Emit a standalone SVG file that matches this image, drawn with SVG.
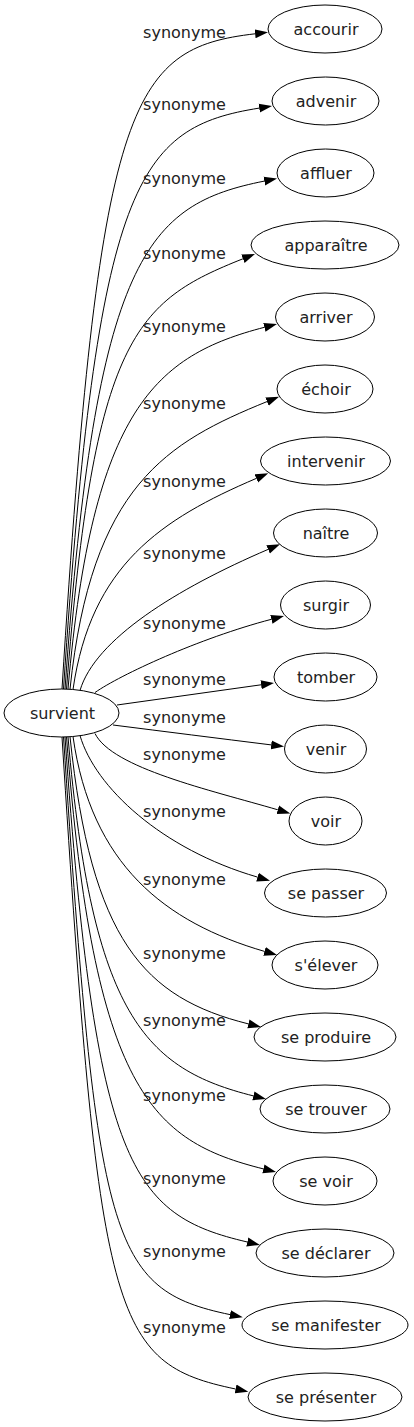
<svg xmlns="http://www.w3.org/2000/svg" width="414" height="1427" viewBox="0 0 414 1427">
<style>
text{font-family:"DejaVu Sans","Verdana",sans-serif;font-size:16px;fill:#222;text-anchor:middle}
ellipse{fill:#fff;stroke:#000;stroke-width:1}
#edges path{fill:none;stroke:#000;stroke-width:1;marker-end:url(#ah)}
</style>
<defs>
<marker id="ah" markerUnits="userSpaceOnUse" viewBox="0 0 13 10" markerWidth="13" markerHeight="10" refX="0" refY="5" orient="auto">
<path d="M0,0.5 L13,5 L0,9.5 z" fill="#000"/>
</marker>
</defs>
<rect width="414" height="1427" fill="#fff"/>
<g id="edges">
<path d="M62,689 C99,100.8 128.9,48.3 255.1,33.8"/>
<path d="M63.5,689 C97.3,178.5 137.7,127.6 259.2,108.1"/>
<path d="M65,689 C95.7,254.7 147.3,204.5 264.3,181.1"/>
<path d="M66.5,689 C93.9,335.9 135.9,301.4 242.9,258.8"/>
<path d="M68,689 C92.5,407.4 156.4,355.4 264.4,327.3"/>
<path d="M70,689.2 C91.3,485 167.3,442.2 267,401.6"/>
<path d="M73,689.5 C91,565.2 160.9,519.2 256.3,478.4"/>
<path d="M80,690.5 C95,639.4 176.2,588.8 268.1,549.4"/>
<path d="M95,692.5 C120,675 198.8,638.3 271.4,619.3"/>
<path d="M117,705 C165,698.3 213,691.5 261.1,684.8"/>
<path d="M113,725 C165,731.6 218,738.3 271.2,744.9"/>
<path d="M95,733.5 C112,768 210,790 277.8,809.8"/>
<path d="M80,735.5 C95,787.1 161.5,849.2 257.5,877.1"/>
<path d="M73,736.5 C91.2,864.7 164.8,922.3 264.5,951.4"/>
<path d="M70,736.8 C91.3,940.5 143.9,997.8 248.4,1023.9"/>
<path d="M68,737 C92.3,1015.7 145.3,1068.9 253.4,1095.9"/>
<path d="M66.5,737 C94,1091.9 151.6,1140.9 263.4,1168.9"/>
<path d="M65,737 C95.6,1168.3 131.3,1214.9 247.3,1242"/>
<path d="M63.5,737 C97.2,1244.1 109.7,1289.5 230,1314.6"/>
<path d="M62,737 C99,1322 111.3,1363.1 235.6,1389"/>
</g>
<g id="edge-labels">
<text x="184.5" y="37.7">synonyme</text>
<text x="184.5" y="110.4">synonyme</text>
<text x="184.5" y="183.7">synonyme</text>
<text x="184.5" y="258.7">synonyme</text>
<text x="184.5" y="332">synonyme</text>
<text x="184.5" y="408.7">synonyme</text>
<text x="184.5" y="487">synonyme</text>
<text x="184.5" y="559.4">synonyme</text>
<text x="184.5" y="628.7">synonyme</text>
<text x="184.5" y="685.4">synonyme</text>
<text x="184.5" y="723.2">synonyme</text>
<text x="184.5" y="760.4">synonyme</text>
<text x="184.5" y="817">synonyme</text>
<text x="184.5" y="885.4">synonyme</text>
<text x="184.5" y="959">synonyme</text>
<text x="184.5" y="1026">synonyme</text>
<text x="184.5" y="1101">synonyme</text>
<text x="184.5" y="1184">synonyme</text>
<text x="184.5" y="1257">synonyme</text>
<text x="184.5" y="1333">synonyme</text>
</g>
<g id="survient"><ellipse cx="61.5" cy="713" rx="57.5" ry="24"/><text x="62.5" y="718.5">survient</text></g>
<g id="accourir"><ellipse cx="325" cy="29" rx="57" ry="24"/><text x="326" y="34.5">accourir</text></g>
<g id="advenir"><ellipse cx="325.5" cy="101" rx="53.5" ry="24"/><text x="326" y="106.5">advenir</text></g>
<g id="affluer"><ellipse cx="325.5" cy="173" rx="48.5" ry="24"/><text x="326" y="178.5">affluer</text></g>
<g id="apparaitre"><ellipse cx="325" cy="245" rx="74" ry="24"/><text x="326" y="250.5">apparaître</text></g>
<g id="arriver"><ellipse cx="325" cy="317" rx="49.5" ry="24"/><text x="326" y="322.5">arriver</text></g>
<g id="echoir"><ellipse cx="325" cy="389" rx="48" ry="24"/><text x="326" y="394.5">échoir</text></g>
<g id="intervenir"><ellipse cx="325.5" cy="461" rx="65" ry="24"/><text x="326" y="466.5">intervenir</text></g>
<g id="naitre"><ellipse cx="325.5" cy="533" rx="52" ry="24"/><text x="326" y="538.5">naître</text></g>
<g id="surgir"><ellipse cx="325.5" cy="605" rx="45" ry="24"/><text x="326" y="610.5">surgir</text></g>
<g id="tomber"><ellipse cx="325.5" cy="677" rx="51.5" ry="24"/><text x="326" y="682.5">tomber</text></g>
<g id="venir"><ellipse cx="325.5" cy="749" rx="41" ry="24"/><text x="326" y="754.5">venir</text></g>
<g id="voir"><ellipse cx="325.5" cy="821" rx="36.5" ry="24"/><text x="326" y="826.5">voir</text></g>
<g id="se-passer"><ellipse cx="325.5" cy="893" rx="61" ry="24"/><text x="326" y="898.5">se passer</text></g>
<g id="s-elever"><ellipse cx="325" cy="965" rx="53" ry="24"/><text x="326" y="970.5">s'élever</text></g>
<g id="se-produire"><ellipse cx="325" cy="1037" rx="71" ry="24"/><text x="326" y="1042.5">se produire</text></g>
<g id="se-trouver"><ellipse cx="325" cy="1109" rx="65" ry="24"/><text x="326" y="1114.5">se trouver</text></g>
<g id="se-voir"><ellipse cx="325" cy="1181" rx="52" ry="24"/><text x="326" y="1186.5">se voir</text></g>
<g id="se-declarer"><ellipse cx="325" cy="1253" rx="69" ry="24"/><text x="326" y="1258.5">se déclarer</text></g>
<g id="se-manifester"><ellipse cx="325" cy="1325" rx="83" ry="24"/><text x="326" y="1330.5">se manifester</text></g>
<g id="se-presenter"><ellipse cx="325" cy="1397" rx="77" ry="24"/><text x="326" y="1402.5">se présenter</text></g>
</svg>
